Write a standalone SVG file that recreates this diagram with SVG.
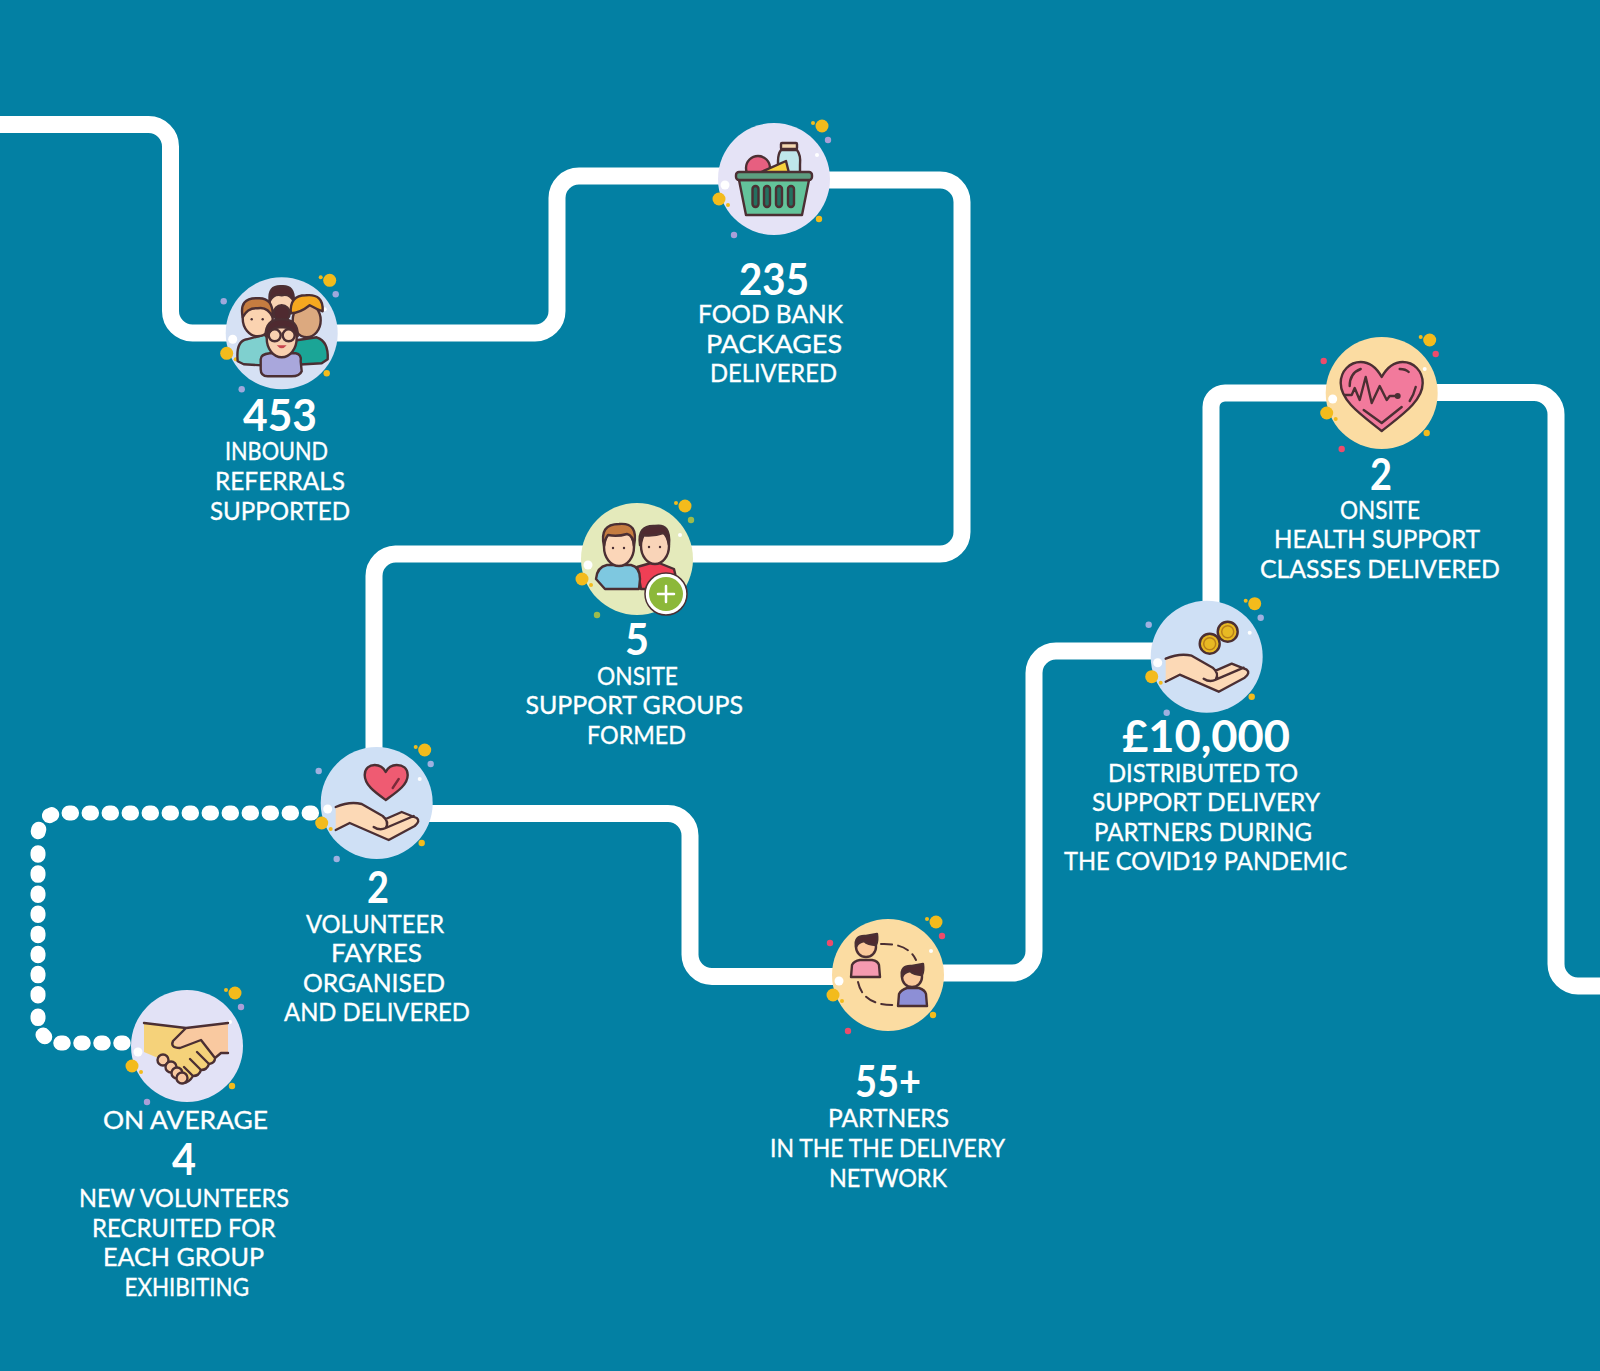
<svg xmlns="http://www.w3.org/2000/svg" width="1600" height="1371" viewBox="0 0 1600 1371">
<style>
.line{fill:none;stroke:#fff;stroke-width:17}
.dots{fill:none;stroke:#fff;stroke-width:15;stroke-linecap:round;stroke-dasharray:2.500 17.500}
text{fill:#fff;stroke:#fff;stroke-width:.35px;font-family:"Lato","Liberation Sans",sans-serif;font-size:25px}
.num{font-size:44px;font-weight:700;stroke:none}
.o{stroke:#4b2f33;stroke-width:2.400;stroke-linejoin:round;stroke-linecap:round}
.l{fill:none;stroke:#4b2f33;stroke-width:2.400;stroke-linecap:round;stroke-linejoin:round}
.e{fill:#4b2f33}
</style>
<defs>
<g id="sp">
<circle cx="48" cy="-53" r="6.500" fill="#f3bb1c"/><circle cx="39" cy="-56" r="2" fill="#f3bb1c"/>
<circle cx="54" cy="-39" r="3.200" fill="currentColor"/><circle cx="43" cy="-24" r="2" fill="#fff"/>
<circle cx="-49" cy="6" r="4.500" fill="#fff"/><circle cx="-55" cy="20" r="6.500" fill="#f3bb1c"/>
<circle cx="-46" cy="26" r="2" fill="#f3bb1c"/><circle cx="45" cy="40" r="3.200" fill="#f3bb1c"/>
<circle cx="-40" cy="56" r="3.200" fill="currentColor"/>
</g>
<circle id="ul" cx="-58" cy="-32" r="3.200" fill="currentColor"/>
<g id="hand">
<path fill="#fcd9b6" d="M-41,2 Q-27,-4 -15,-1 L9,13 L25,7 L40,13 Q44,20 33,23 L12,35 L-27,18 L-41,25Z"/>
<path class="l" d="M-41,2 Q-27,-4 -15,-1 L6,11 Q13,17 9,23 Q3,26 -3,22 M-41,25 L-27,18 L12,35 L38,21 Q44,16 40,13 L25,7 L9,14 M9,23 L37,11"/>
</g>
</defs>
<rect width="1600" height="1371" fill="#0380a3"/>
<g id="connectors">
<path class="line" d="M0,124.5 H148 A22,22 0 0 1 170.5,147 V311 A22,22 0 0 0 192.5,333 H535 A22,22 0 0 0 557,311 V198 A22,22 0 0 1 579,176 H730"/>
<path class="line" d="M820,180 H940 A22,22 0 0 1 962,202 V532 A22,22 0 0 1 940,554 H395.5 A22,22 0 0 0 374,576 V760"/>
<path class="line" d="M420,813.5 H668 A22,22 0 0 1 690,835.5 V954 A22,22 0 0 0 712,976.5 H840"/>
<path class="line" d="M930,973 H1012 A22,22 0 0 0 1034,951 V673 A22,22 0 0 1 1056,651 H1170"/>
<path class="line" d="M1211,610 V407 A14,14 0 0 1 1225,393 H1340"/>
<path class="line" d="M1420,392.5 H1534 A22,22 0 0 1 1556,415 V964 A22,22 0 0 0 1578,986 H1600"/>
<path class="dots" d="M123.250,1043 H60 A22,22 0 0 1 38,1021 V1012"/>
<path class="dots" style="stroke-dasharray:2.500 17.600" d="M38,852.750 V997"/>
<path class="dots" d="M311.550,813 H60 A22,22 0 0 0 38,835"/>
</g>
<g id="node-referrals">
<g transform="translate(281.7,333.3)">
<circle r="56" fill="#d6e1f4"/><use href="#sp" color="#9fa8dc"/><use href="#ul" color="#9fa8dc"/>
<ellipse class="o" cx="0" cy="-31" rx="12" ry="15" fill="#f8d2b2"/>
<path class="o" fill="#4f2a30" d="M-12,-32 Q-14,-48 0,-47 Q13,-48 12,-32 Q8,-40 0,-38 Q-8,-40 -12,-32Z"/>
<path class="o" fill="#7fd0cf" d="M-44,28 Q-46,8 -35,6 L-12,0 L4,8 L-4,33 L-38,31Z"/>
<ellipse class="o" cx="-24" cy="-15" rx="15" ry="18" fill="#fbd3b0"/>
<path class="o" fill="#c57c40" d="M-39,-16 Q-43,-36 -24,-35 Q-8,-36 -9,-16 Q-14,-27 -24,-25 Q-34,-26 -39,-16Z"/>
<circle class="e" cx="-30" cy="-14" r="1.200"/><circle class="e" cx="-19" cy="-14" r="1.200"/>
<path class="o" fill="#1ba596" d="M8,8 L35,4 Q47,8 46,26 L40,30 L6,32Z"/>
<ellipse class="o" cx="25" cy="-13" rx="14" ry="17" fill="#dca97f"/>
<path class="o" fill="#f5a81f" d="M9,-20 Q8,-38 24,-38 Q42,-40 41,-22 Q35,-24 28,-28 Q18,-20 9,-20Z"/>
<path class="o" fill="#a9a7dc" d="M-21,26 Q-21,21 -12,20 L14,20 Q20,21 19,28 L20,38 Q18,43 10,43 L-14,43 Q-21,43 -21,36Z"/>
<ellipse class="o" cx="0" cy="5" rx="15" ry="19" fill="#f8d0b0"/>
<circle class="o" cx="0" cy="-20" r="8" fill="#4f2a30"/>
<path class="o" fill="#4f2a30" d="M-16,3 Q-17,-14 0,-14 Q17,-14 16,3 Q10,-7 0,-6 Q-10,-7 -16,3Z"/>
<circle class="l" cx="-7" cy="2" r="6"/><circle class="l" cx="7" cy="2" r="6"/>
<path d="M-5,12 Q0,18 5,12Z" fill="#c9444e"/>
</g>
<text class="num" x="243" y="431" textLength="74" lengthAdjust="spacingAndGlyphs">453</text>
<text x="225" y="460" textLength="103" lengthAdjust="spacingAndGlyphs">INBOUND</text>
<text x="215" y="490" textLength="130" lengthAdjust="spacingAndGlyphs">REFERRALS</text>
<text x="210" y="519.5" textLength="140" lengthAdjust="spacingAndGlyphs">SUPPORTED</text>
</g>
<g id="node-foodbank">
<g transform="translate(774,179)">
<circle r="56" fill="#e5e3f6"/><use href="#sp" color="#a99fd8"/>
<path class="o" fill="#bfe6ea" d="M7,-29 L23,-29 Q27,-24 26,-14 L26,-6 L4,-6 L4,-18 Q4,-25 7,-29Z"/>
<rect class="o" x="7" y="-36" width="16" height="6" rx="1" fill="#f4d9b0"/>
<circle class="o" cx="-16" cy="-11" r="12" fill="#e75f80"/>
<path class="o" fill="#f7d23c" d="M-15,-6 L12,-18 L15,-6Z"/>
<path class="o" fill="#63c39a" d="M-35,1 L35,1 L28,36 L-28,36Z"/>
<rect class="o" x="-38" y="-7" width="76" height="8" rx="3" fill="#5c9e80"/>
<rect class="o" x="-21.500" y="7" width="6" height="21" rx="3" fill="#24705f"/>
<rect class="o" x="-10" y="7" width="6" height="21" rx="3" fill="#24705f"/>
<rect class="o" x="2" y="7" width="6" height="21" rx="3" fill="#24705f"/>
<rect class="o" x="14" y="7" width="6" height="21" rx="3" fill="#24705f"/>
</g>
<text class="num" x="739" y="295" textLength="70" lengthAdjust="spacingAndGlyphs">235</text>
<text x="698" y="323" textLength="145" lengthAdjust="spacingAndGlyphs">FOOD BANK</text>
<text x="706" y="353" textLength="136" lengthAdjust="spacingAndGlyphs">PACKAGES</text>
<text x="710" y="382" textLength="127" lengthAdjust="spacingAndGlyphs">DELIVERED</text>
</g>
<g id="node-health">
<g transform="translate(1381.700,393)">
<circle r="56" fill="#fbdca2"/><use href="#sp" color="#ec4c6c"/><use href="#ul" color="#ec4c6c"/>
<path class="o" fill="#f27a9c" d="M0,38 C-20,22 -41,8 -41,-10 C-41,-22 -32,-31 -21,-31 C-12,-31 -5,-25 0,-16 C5,-25 12,-31 21,-31 C32,-31 41,-22 41,-10 C41,8 20,22 0,38Z"/>
<path class="l" d="M-37,2 L-30,2 L-27,-5 L-22,7 L-16,-16 L-10,10 L-2,-7 L5,7 L8,3 L16,3"/>
<circle cx="16" cy="3" r="3" fill="#4b2f33"/>
<path class="l" d="M-32,-7 Q-32,-20 -21,-24 M18,-24 Q24,-24 27,-21 M-18,17 L0,30 L20,14 M34,-6 Q32,2 28,8"/>
</g>
<text class="num" x="1370" y="490" textLength="22" lengthAdjust="spacingAndGlyphs">2</text>
<text x="1340" y="518.500" textLength="80" lengthAdjust="spacingAndGlyphs">ONSITE</text>
<text x="1274" y="548" textLength="206" lengthAdjust="spacingAndGlyphs">HEALTH SUPPORT</text>
<text x="1260" y="577.500" textLength="240" lengthAdjust="spacingAndGlyphs">CLASSES DELIVERED</text>
</g>
<g id="node-groups">
<g transform="translate(637,559)">
<circle r="56" fill="#e4eabb"/><use href="#sp" color="#9dbb4c"/>
<path class="o" fill="#ef3f55" d="M0,8 L14,4 L22,4 L37,10 Q40,20 38,30 L4,30Z"/>
<ellipse class="o" cx="18" cy="-13" rx="14" ry="18" fill="#f9d4b8"/>
<path class="o" fill="#4f2a30" d="M3,-14 Q0,-34 18,-33 Q34,-36 32,-14 Q30,-24 26,-26 Q14,-22 6,-24 Q4,-20 3,-14Z"/>
<circle class="e" cx="12" cy="-12" r="1.200"/><circle class="e" cx="23" cy="-12" r="1.200"/>
<path class="o" fill="#7ec8e0" d="M-41,20 Q-40,8 -30,6 L-6,6 Q3,8 3,20 L2,30 L-32,30Z"/>
<ellipse class="o" cx="-18" cy="-12" rx="15" ry="19" fill="#fbd6b8"/>
<path class="o" fill="#c57c40" d="M-33,-13 Q-38,-35 -18,-35 Q2,-37 -3,-13 Q-4,-24 -10,-25 Q-20,-22 -29,-24 Q-32,-20 -33,-13Z"/>
<circle class="e" cx="-24" cy="-11" r="1.200"/><circle class="e" cx="-13" cy="-11" r="1.200"/>
<circle cx="29" cy="35" r="21" fill="#fff" stroke="#4b2f33" stroke-width="1.500"/>
<circle cx="29" cy="35" r="17" fill="#8cb83a"/>
<path d="M29,27 V43 M21,35 H37" stroke="#fff" stroke-width="2.500" stroke-linecap="round"/>
</g>
<text class="num" x="625" y="655" textLength="24" lengthAdjust="spacingAndGlyphs">5</text>
<text x="597" y="685" textLength="81" lengthAdjust="spacingAndGlyphs">ONSITE</text>
<text x="525.500" y="714" textLength="217.500" lengthAdjust="spacingAndGlyphs">SUPPORT GROUPS</text>
<text x="587" y="744" textLength="99" lengthAdjust="spacingAndGlyphs">FORMED</text>
</g>
<g id="node-distributed">
<g transform="translate(1206.700,656.700)">
<circle r="56" fill="#cfe0f5"/><use href="#sp" color="#9fb0e0"/><use href="#ul" color="#9fb0e0"/>
<use href="#hand"/>
<circle class="o" cx="3" cy="-13" r="10" fill="#e8b923"/><circle cx="3" cy="-13" r="6" fill="none" stroke="#b8801a" stroke-width="1.500"/>
<circle class="o" cx="21" cy="-25" r="10" fill="#e8b923"/><circle cx="21" cy="-25" r="6" fill="none" stroke="#b8801a" stroke-width="1.500"/>
</g>
<text class="num" x="1122" y="752" textLength="168" lengthAdjust="spacingAndGlyphs">£10,000</text>
<text x="1108" y="782" textLength="190" lengthAdjust="spacingAndGlyphs">DISTRIBUTED TO</text>
<text x="1092" y="811" textLength="228" lengthAdjust="spacingAndGlyphs">SUPPORT DELIVERY</text>
<text x="1094" y="841" textLength="218" lengthAdjust="spacingAndGlyphs">PARTNERS DURING</text>
<text x="1064" y="870" textLength="283" lengthAdjust="spacingAndGlyphs">THE COVID19 PANDEMIC</text>
</g>
<g id="node-volunteer">
<g transform="translate(376.700,803)">
<circle r="56" fill="#cfe0f5"/><use href="#sp" color="#9fb0e0"/><use href="#ul" color="#9fb0e0"/>
<use href="#hand" y="2"/>
<path class="o" fill="#ef5b72" d="M9,-3 C-2,-11 -12,-18 -12,-28 C-12,-35 -7,-38 -2,-38 C3,-38 7,-35 9,-31 C11,-35 15,-38 20,-38 C26,-38 31,-35 31,-28 C31,-18 20,-11 9,-3Z"/>
<path class="l" d="M16,-15 L22,-24" style="stroke:#7a2b3a"/>
</g>
<text class="num" x="367" y="903" textLength="22" lengthAdjust="spacingAndGlyphs">2</text>
<text x="306" y="933" textLength="138" lengthAdjust="spacingAndGlyphs">VOLUNTEER</text>
<text x="331" y="962" textLength="91" lengthAdjust="spacingAndGlyphs">FAYRES</text>
<text x="303" y="992" textLength="142" lengthAdjust="spacingAndGlyphs">ORGANISED</text>
<text x="284" y="1021" textLength="186" lengthAdjust="spacingAndGlyphs">AND DELIVERED</text>
</g>
<g id="node-partners">
<g transform="translate(888,975)">
<circle r="56" fill="#fbdca2"/><use href="#sp" color="#ec4c6c"/><use href="#ul" color="#ec4c6c"/>
<path d="M-7,-31 Q20,-32 28,-15 M-30,7 Q-25,30 5,30" fill="none" stroke="#4b2f33" stroke-width="2" stroke-dasharray="11 6" stroke-linecap="round"/>
<path class="o" fill="#f59ab0" d="M-37,2 L-36,-10 Q-34,-14 -28,-15 L-16,-15 Q-10,-14 -9,-10 L-8,2Z"/>
<circle class="o" cx="-22" cy="-28" r="10" fill="#fbc99b"/>
<path class="o" fill="#4f2a30" d="M-32,-28 Q-34,-40 -22,-39 L-11,-41 Q-10,-34 -12,-30 Q-20,-30 -24,-34 Q-30,-33 -32,-28Z"/>
<path class="o" fill="#8d8fd6" d="M10,31 L11,19 Q13,15 19,13 L31,13 Q37,15 38,19 L39,31Z"/>
<circle class="o" cx="24" cy="2" r="10" fill="#fbc99b"/>
<path class="o" fill="#4f2a30" d="M14,2 Q12,-10 24,-9 L35,-11 Q36,-4 34,0 Q26,0 22,-4 Q16,-3 14,2Z"/>
</g>
<text class="num" x="855" y="1097" textLength="66" lengthAdjust="spacingAndGlyphs">55+</text>
<text x="828" y="1127" textLength="121" lengthAdjust="spacingAndGlyphs">PARTNERS</text>
<text x="770" y="1157" textLength="235" lengthAdjust="spacingAndGlyphs">IN THE THE DELIVERY</text>
<text x="829" y="1187" textLength="118" lengthAdjust="spacingAndGlyphs">NETWORK</text>
</g>
<g id="node-recruited">
<g transform="translate(187,1046)">
<circle r="56" fill="#e2e2f6"/><use href="#sp" color="#a99fd8"/>
<path fill="#f9c9a0" d="M-1,-18 L41,-23 L41,7 L34,7 L28,12 L14,-6 L-7,2 L-14,-3Z"/>
<path fill="#f5d27a" d="M-43,-23 L-1,-18 L-14,-3 L-7,2 L14,-6 L28,12 Q28,17 22,18 Q20,24 14,24 Q12,30 6,30 Q2,37 -4,37 L-29,12 L-43,6Z"/>
<path class="l" d="M-43,-23 L-1,-18 L41,-23 M41,7 L34,7 L28,12 L14,-6 L-7,2 Q-17,2 -14,-5 L-1,-18 M28,12 Q28,17 22,18 Q20,24 14,24 Q12,30 6,30 Q2,37 -4,37 M22,18 L10,6 M14,24 L3,13 M6,30 L-3,21"/>
<circle class="o" cx="-24" cy="14" r="5.500" fill="#f9c9a0"/><circle class="o" cx="-16" cy="21" r="5.500" fill="#f9c9a0"/>
<circle class="o" cx="-10" cy="27" r="5.500" fill="#f9c9a0"/><circle class="o" cx="-5" cy="32" r="5.500" fill="#f9c9a0"/>
</g>
<text x="103" y="1129" textLength="165" lengthAdjust="spacingAndGlyphs">ON AVERAGE</text>
<text class="num" x="172" y="1175" textLength="24" lengthAdjust="spacingAndGlyphs">4</text>
<text x="79" y="1207" textLength="210" lengthAdjust="spacingAndGlyphs">NEW VOLUNTEERS</text>
<text x="92" y="1237" textLength="183.500" lengthAdjust="spacingAndGlyphs">RECRUITED FOR</text>
<text x="103" y="1266" textLength="161" lengthAdjust="spacingAndGlyphs">EACH GROUP</text>
<text x="124.500" y="1296" textLength="124.500" lengthAdjust="spacingAndGlyphs">EXHIBITING</text>
</g>
</svg>
